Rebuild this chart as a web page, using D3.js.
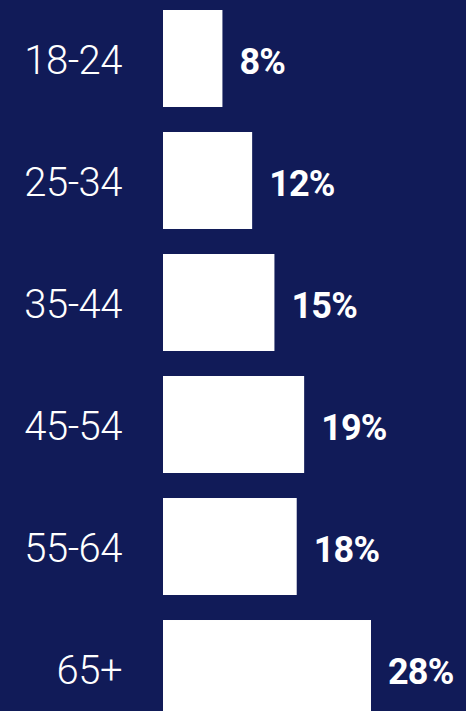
<!DOCTYPE html>
<html>
<head>
<meta charset="utf-8">
<script src="https://cdn.jsdelivr.net/npm/d3@7"></script>
<style>
  html, body { margin: 0; padding: 0; background: #111b58; overflow: hidden; }
  svg { display: block; }
  .cat { font-family: Roboto, sans-serif; font-weight: 300; fill: #fff; }
  .val { font-family: Roboto, sans-serif; font-weight: 700; fill: #fff; }
</style>
</head>
<body>
<div id="chart"></div>
<script>
const ageGroups = ['18-24', '25-34', '35-44', '45-54', '55-64', '65+'];
const shares = [8, 12, 15, 19, 18, 28];

const width = 466, height = 711;

const svg = d3.select('#chart')
    .append('svg')
    .attr('width', width)
    .attr('height', height);

const y = d3.scaleBand()
    .domain(ageGroups)
    .range([10, 717])
    .paddingInner(0.205)
    .paddingOuter(0);

const x = d3.scaleLinear()
    .domain([0, 28])
    .range([163, 371]);

const rows = svg.append('g')
    .selectAll('g')
    .data(ageGroups.map((g, i) => ({ group: g, value: shares[i] })))
    .enter().append('g');

rows.append('rect')
    .attr('x', x(0))
    .attr('y', d => y(d.group))
    .attr('width', d => x(d.value) - x(0))
    .attr('height', y.bandwidth())
    .attr('fill', '#fff');

rows.append('text')
    .attr('class', 'cat')
    .attr('x', 122)
    .attr('y', d => y(d.group) + y.bandwidth() / 2 + 15.5)
    .attr('text-anchor', 'end')
    .style('font-size', '40px')
    .style('letter-spacing', '-0.5px')
    .text(d => d.group);

rows.append('text')
    .attr('class', 'val')
    .attr('x', d => x(d.value) + 17)
    .attr('y', d => y(d.group) + y.bandwidth() / 2 + 15.5)
    .style('font-size', '36px')
    .style('letter-spacing', '-0.8px')
    .text(d => d.value + '%');
</script>
</body>
</html>
